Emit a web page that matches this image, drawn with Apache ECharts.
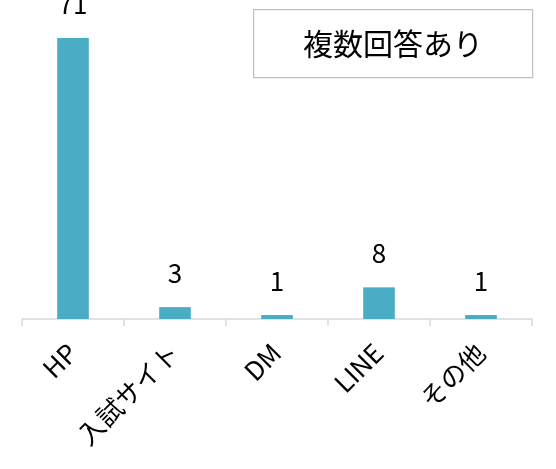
<!DOCTYPE html>
<html><head><meta charset="utf-8">
<script src="https://cdn.jsdelivr.net/npm/echarts@6/dist/echarts.min.js"></script>
<style>html,body{margin:0;padding:0;background:#fff}#c{width:556px;height:469px}</style>
</head><body><div id="c"></div>
<script>
const categories = ['HP', '入試サイト', 'DM', 'LINE', 'その他'];
const values = [71, 3, 1, 8, 1];
const note = '複数回答あり';
const font = '"Noto Sans CJK JP", "Noto Sans", sans-serif';
const chart = echarts.init(document.getElementById('c'));
chart.setOption({
  animation: false,
  grid: {left: 22, right: 24, top: 38, bottom: 150},
  xAxis: {
    type: 'category', data: categories,
    axisLine: {lineStyle: {color: '#d9d9d9', width: 1.5}},
    axisTick: {show: true, length: 7, alignWithLabel: false, lineStyle: {color: '#d9d9d9', width: 1.5}},
    axisLabel: {rotate: 45, fontSize: 26, color: '#000', fontFamily: font, margin: 10, interval: 0,
      align: 'right', verticalAlign: 'top', padding: [0, 14, 0, 0]}
  },
  yAxis: {type: 'value', min: 0, max: 71, show: false},
  series: [{
    type: 'bar', data: values, barWidth: '31%',
    itemStyle: {color: '#4bacc6'},
    label: {show: true, position: 'top', distance: 21, fontSize: 26, color: '#000', fontFamily: font}
  }],
  graphic: [{
    type: 'group', left: 253, top: 9,
    children: [
      {type: 'rect', shape: {x: 0, y: 0, width: 279, height: 68}, style: {fill: '#fff', stroke: '#bfbfbf', lineWidth: 1.2}},
      {type: 'text', x: 139.5, y: 34, style: {text: note, fontSize: 30, fontFamily: font, fill: '#000', align: 'center', verticalAlign: 'middle'}}
    ]
  }]
});
</script></body></html>
